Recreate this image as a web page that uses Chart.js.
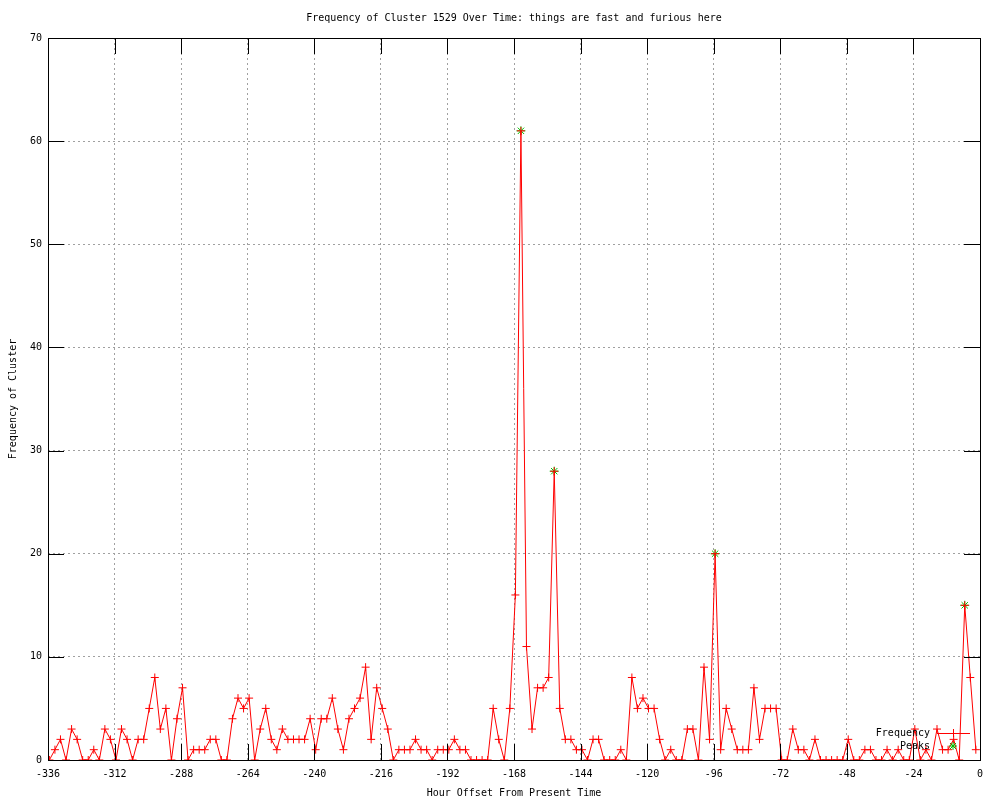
<!DOCTYPE html>
<html>
<head>
<meta charset="utf-8">
<script src="https://cdn.jsdelivr.net/npm/chart.js@4/dist/chart.umd.min.js"></script>
<style>
  html, body { margin: 0; padding: 0; background: #ffffff; }
  #wrap { width: 1000px; height: 800px; }
</style>
</head>
<body>
<div id="wrap"><canvas id="c" width="1000" height="800"></canvas></div>
<script>
// ---- Data ----
const titleText = "Frequency of Cluster 1529 Over Time: things are fast and furious here";
const xTitle = "Hour Offset From Present Time";
const yTitle = "Frequency of Cluster";

const hours = [
  -335.5,-333.5,-331.5,-329.5,-327.5,-325.5,-323.5,-321.5,-319.5,-317.5,
  -315.5,-313.5,-311.5,-309.5,-307.5,-305.5,-303.5,-301.5,-299.5,-297.5,
  -295.5,-293.5,-291.5,-289.5,-287.5,-285.5,-283.5,-281.5,-279.5,-277.5,
  -275.5,-273.5,-271.5,-269.5,-267.5,-265.5,-263.5,-261.5,-259.5,-257.5,
  -255.5,-253.5,-251.5,-249.5,-247.5,-245.5,-243.5,-241.5,-239.5,-237.5,
  -235.5,-233.5,-231.5,-229.5,-227.5,-225.5,-223.5,-221.5,-219.5,-217.5,
  -215.5,-213.5,-211.5,-209.5,-207.5,-205.5,-203.5,-201.5,-199.5,-197.5,
  -195.5,-193.5,-191.5,-189.5,-187.5,-185.5,-183.5,-181.5,-179.5,-177.5,
  -175.5,-173.5,-171.5,-169.5,-167.5,-165.5,-163.5,-161.5,-159.5,-157.5,
  -155.5,-153.5,-151.5,-149.5,-147.5,-145.5,-143.5,-141.5,-139.5,-137.5,
  -135.5,-133.5,-131.5,-129.5,-127.5,-125.5,-123.5,-121.5,-119.5,-117.5,
  -115.5,-113.5,-111.5,-109.5,-107.5,-105.5,-103.5,-101.5,-99.5,-97.5,
  -95.5,-93.5,-91.5,-89.5,-87.5,-85.5,-83.5,-81.5,-79.5,-77.5,
  -75.5,-73.5,-71.5,-69.5,-67.5,-65.5,-63.5,-61.5,-59.5,-57.5,
  -55.5,-53.5,-51.5,-49.5,-47.5,-45.5,-43.5,-41.5,-39.5,-37.5,
  -35.5,-33.5,-31.5,-29.5,-27.5,-25.5,-23.5,-21.5,-19.5,-17.5,
  -15.5,-13.5,-11.5,-9.5,-7.5,-5.5,-3.5,-1.5
];

const frequency = [
  0,1,2,0,3,2,0,0,1,0, 3,2,0,3,2,0,2,2,5,8, 3,5,0,4,7,0,1,1,1,2,
  2,0,0,4,6,5,6,0,3,5, 2,1,
  3,2,2,2,2,4,1,4,4,6, 3,1,4,5,6,9,2,7,5,3, 0,1,1,1,2,1,1,0,1,1,
  1,2,1,1,0,0,0,0,5,2, 0,
  5,16,61,11,3,7,7,8,28,5, 2,2,1,1,0,2,2,0,0,
  0,1,0,8,5,6,5,5,2,0, 1,0,0,3,3,0,9,2,20,1, 5,3,1,1,1,7,2,5,5,5,
  0,0,3,1,1,0,2,0,0,0, 0,
  0,2,0,0,1,1,0,0,1,0, 1,0,0,3,0,1,0,3,1,1, 2,0,15,8,1
];

const peakHours = [-165.5, -153.5, -95.5, -5.5];
const peakValues = [61, 28, 20, 15];

const xTicks = [-336,-312,-288,-264,-240,-216,-192,-168,-144,-120,-96,-72,-48,-24,0];
const yTicks = [0,10,20,30,40,50,60,70];

// ---- Styling ----
const FONT = "DejaVu Sans Mono";
const RED = "#ff0000";
const GREEN = "#00c000";
const GRID = "#a0a0a0";

const freqPoints = hours.map((h, i) => ({ x: h, y: frequency[i] }));
const peakPoints = peakHours.map((h, i) => ({ x: h, y: peakValues[i] }));

const gnuplotDecor = {
  id: 'gnuplotDecor',
  afterDraw(chart) {
    const ctx = chart.ctx;
    const a = chart.chartArea;
    const xs = chart.scales.x, ys = chart.scales.y;
    ctx.save();
    // frame
    ctx.strokeStyle = '#000';
    ctx.lineWidth = 1;
    ctx.setLineDash([]);
    ctx.strokeRect(a.left + 0.5, a.top + 0.5, a.right - a.left, a.bottom - a.top);
    // inward ticks with mirror
    const T = 16;
    ctx.beginPath();
    xTicks.forEach(v => {
      const px = Math.round(xs.getPixelForValue(v)) + 0.5;
      ctx.moveTo(px, a.bottom); ctx.lineTo(px, a.bottom - T);
      ctx.moveTo(px, a.top); ctx.lineTo(px, a.top + T);
    });
    yTicks.forEach(v => {
      const py = Math.round(ys.getPixelForValue(v)) + 0.5;
      ctx.moveTo(a.left, py); ctx.lineTo(a.left + T, py);
      ctx.moveTo(a.right, py); ctx.lineTo(a.right - T, py);
    });
    ctx.stroke();
    // title
    ctx.fillStyle = '#000';
    ctx.font = "10px '" + FONT + "'";
    ctx.textAlign = 'center';
    ctx.textBaseline = 'middle';
    ctx.fillText(titleText, (a.left + a.right) / 2, 18);
    // legend (gnuplot style: text right-aligned, sample to the right)
    const tx = 930, lx1 = 937, lx2 = 970, mx = 953;
    const y1 = 733, y2 = 746;
    ctx.textAlign = 'right';
    ctx.fillText(chart.data.datasets[0].label, tx, y1);
    ctx.fillText(chart.data.datasets[1].label, tx, y2);
    ctx.strokeStyle = RED;
    ctx.beginPath();
    ctx.moveTo(lx1, y1 + 0.5); ctx.lineTo(lx2, y1 + 0.5);
    ctx.moveTo(mx - 4, y1 + 0.5); ctx.lineTo(mx + 4, y1 + 0.5);
    ctx.moveTo(mx + 0.5, y1 - 4); ctx.lineTo(mx + 0.5, y1 + 4);
    ctx.stroke();
    ctx.strokeStyle = GREEN;
    ctx.beginPath();
    ctx.moveTo(mx - 3, y2 - 3); ctx.lineTo(mx + 3, y2 + 3);
    ctx.moveTo(mx - 3, y2 + 3); ctx.lineTo(mx + 3, y2 - 3);
    ctx.moveTo(mx - 4, y2); ctx.lineTo(mx + 4, y2);
    ctx.moveTo(mx, y2 - 4); ctx.lineTo(mx, y2 + 4);
    ctx.stroke();
    ctx.restore();
  }
};

new Chart(document.getElementById('c'), {
  type: 'line',
  data: {
    datasets: [
      {
        label: 'Frequency',
        data: freqPoints,
        borderColor: RED,
        backgroundColor: RED,
        borderWidth: 1,
        tension: 0,
        pointStyle: 'cross',
        pointRadius: 4,
        pointBorderWidth: 1,
        pointBorderColor: RED,
        fill: false
      },
      {
        label: 'Peaks',
        data: peakPoints,
        showLine: false,
        borderColor: GREEN,
        backgroundColor: GREEN,
        pointStyle: 'star',
        pointRadius: 4.5,
        pointBorderWidth: 1,
        pointBorderColor: GREEN
      }
    ]
  },
  options: {
    responsive: false,
    animation: false,
    devicePixelRatio: 1,
    layout: { padding: { top: 38, right: 20, left: 0, bottom: 0 } },
    plugins: {
      legend: { display: false },
      title: { display: false },
      tooltip: { enabled: false }
    },
    scales: {
      x: {
        type: 'linear',
        min: -336,
        max: 0,
        afterFit(s) { s.height = 40; },
        afterBuildTicks(s) { s.ticks = xTicks.map(v => ({ value: v })); },
        ticks: {
          color: '#000',
          font: { family: FONT, size: 10 },
          padding: 8,
          maxRotation: 0,
          autoSkip: false,
          callback: v => String(v)
        },
        grid: { color: GRID, lineWidth: 1, drawTicks: false },
        border: { display: false, dash: [2, 3] },
        title: {
          display: true,
          text: xTitle,
          color: '#000',
          font: { family: FONT, size: 10 },
          padding: { top: 0, bottom: 1 }
        }
      },
      y: {
        type: 'linear',
        min: 0,
        max: 70,
        afterFit(s) { s.width = 48; },
        afterBuildTicks(s) { s.ticks = yTicks.map(v => ({ value: v })); },
        ticks: {
          color: '#000',
          font: { family: FONT, size: 10 },
          padding: 6,
          callback: v => String(v)
        },
        grid: { color: GRID, lineWidth: 1, drawTicks: false },
        border: { display: false, dash: [2, 3] },
        title: {
          display: true,
          text: yTitle,
          color: '#000',
          font: { family: FONT, size: 10 },
          padding: { top: 7, bottom: 0 }
        }
      }
    }
  },
  plugins: [gnuplotDecor]
});
</script>
</body>
</html>
